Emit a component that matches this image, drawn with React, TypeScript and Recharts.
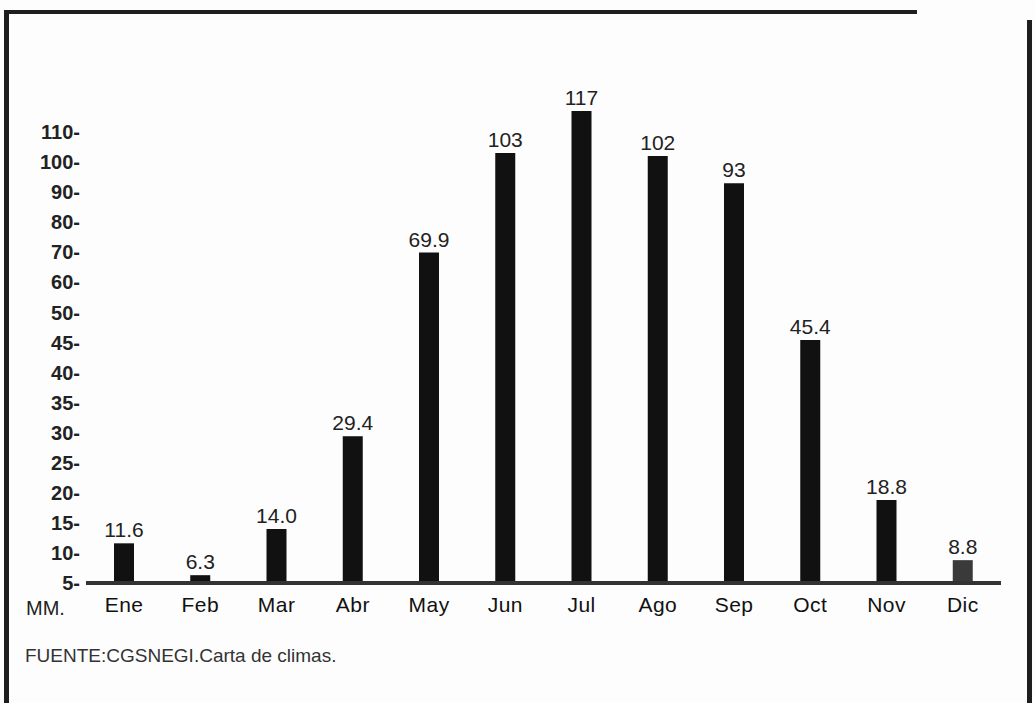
import { BarChart, Bar, XAxis, YAxis, Cell, LabelList } from "recharts";

const months = ["Ene", "Feb", "Mar", "Abr", "May", "Jun", "Jul", "Ago", "Sep", "Oct", "Nov", "Dic"];
const rainfall = [11.6, 6.3, 14.0, 29.4, 69.9, 103, 117, 102, 93, 45.4, 18.8, 8.8];
const rainfallLabels = ["11.6", "6.3", "14.0", "29.4", "69.9", "103", "117", "102", "93", "45.4", "18.8", "8.8"];
const yTickLabels = ["5", "10", "15", "20", "25", "30", "35", "40", "45", "50", "60", "70", "80", "90", "100", "110"];

// the printed axis is not linear: steps of 5 up to 50, then steps of 10
function toAxisPos(v: number) {
  return v <= 50 ? v / 5 - 1 : 9 + (v - 50) / 10;
}

const data = months.map((m, i) => ({
  month: m,
  value: rainfall[i],
  label: rainfallLabels[i],
  pos: toAxisPos(rainfall[i]),
}));

const FONT = "'Liberation Sans', Arial, sans-serif";

export default function App() {
  return (
    <div
      style={{
        position: "absolute",
        left: 0,
        top: 0,
        width: 1035,
        height: 703,
        background: "#fdfdfd",
        fontFamily: FONT,
        overflow: "hidden",
      }}
    >
      {/* frame */}
      <div style={{ position: "absolute", left: 4, top: 10, width: 913, height: 4, background: "#1e1e1e" }} />
      <div style={{ position: "absolute", left: 4, top: 10, width: 5, height: 693, background: "#1e1e1e" }} />
      <div style={{ position: "absolute", left: 1027, top: 20, width: 5, height: 683, background: "#1e1e1e" }} />

      <div style={{ position: "absolute", left: 0, top: 0 }}>
        <BarChart width={1035} height={703} data={data} margin={{ top: 102, right: 34, bottom: 90, left: 0 }}>
          <XAxis
            dataKey="month"
            height={30}
            axisLine={{ stroke: "#333", strokeWidth: 4 }}
            tickLine={false}
            tickSize={8}
            tickMargin={6}
            tick={{ fontSize: 21, fill: "#111", fontFamily: FONT, letterSpacing: 0.5 }}
          />
          <YAxis
            type="number"
            domain={[0, 16]}
            ticks={yTickLabels.map((_, i) => i)}
            tickFormatter={(i: number) => `${yTickLabels[i]}-`}
            width={86}
            axisLine={false}
            tickLine={false}
            tickSize={4}
            tickMargin={2}
            tick={{ fontSize: 20, fontWeight: "bold", fill: "#222", fontFamily: FONT }}
          />
          <Bar dataKey="pos" barSize={20} isAnimationActive={false}>
            {data.map((d, i) => (
              <Cell key={i} fill={d.month === "Dic" ? "#3a3a3a" : "#111"} />
            ))}
            <LabelList
              dataKey="label"
              position="top"
              offset={6}
              style={{ fontSize: 21, fill: "#222", fontFamily: FONT }}
            />
          </Bar>
        </BarChart>
      </div>

      <div style={{ position: "absolute", left: 26, top: 597, fontSize: 20, color: "#222" }}>MM.</div>
      <div style={{ position: "absolute", left: 25, top: 645, fontSize: 19, color: "#333" }}>
        FUENTE:CGSNEGI.Carta de climas.
      </div>
    </div>
  );
}
